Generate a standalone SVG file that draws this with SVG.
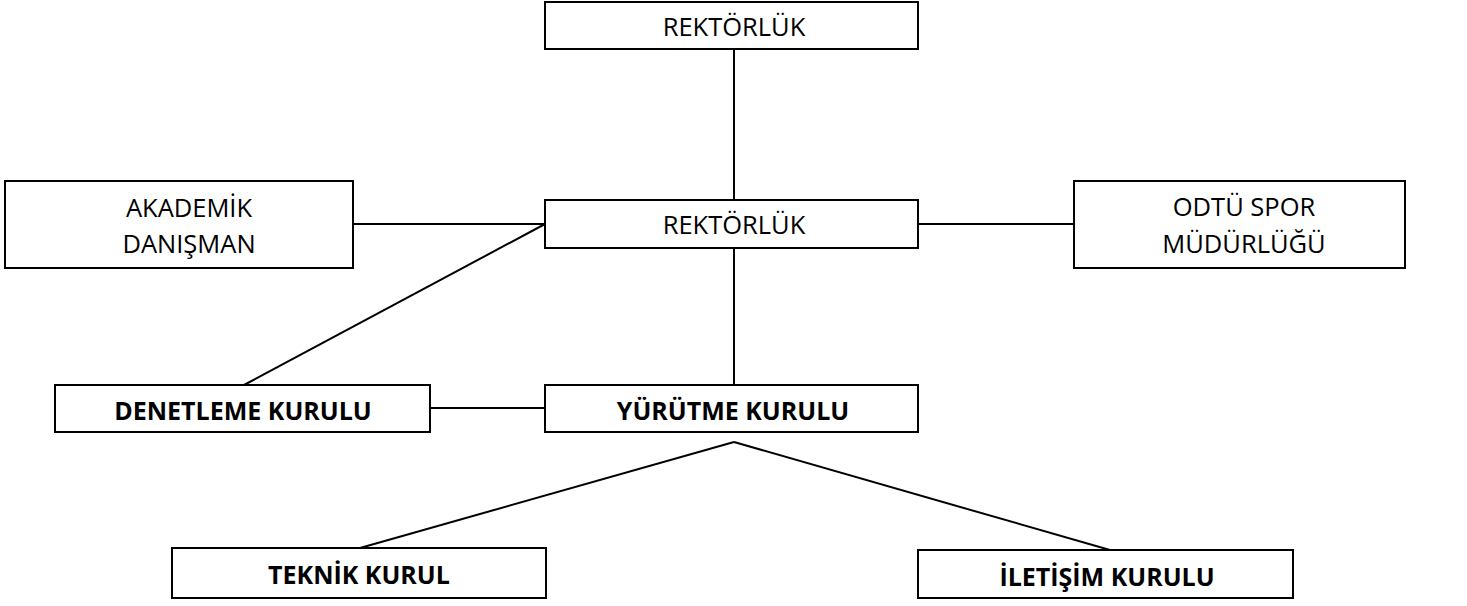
<svg xmlns="http://www.w3.org/2000/svg" width="1467" height="606" viewBox="0 0 1467 606">
<style>
.n{fill:#fff;stroke:#000;stroke-width:2}
line{stroke:#000;stroke-width:2}
text{font-family:"Open Sans","Liberation Sans",sans-serif;font-size:25.5px;fill:#000;text-anchor:middle}
.b{font-weight:bold;font-size:25px}
</style>
<rect width="1467" height="606" fill="#fff"/>
<g id="connectors">
<line x1="734" y1="49" x2="734" y2="200"/>
<line x1="353" y1="224" x2="545" y2="224"/>
<line x1="545" y1="224" x2="244" y2="385"/>
<line x1="918" y1="224" x2="1074" y2="224"/>
<line x1="734" y1="248" x2="734" y2="385"/>
<line x1="430" y1="408" x2="545" y2="408"/>
<line x1="734" y1="442" x2="360" y2="548"/>
<line x1="734" y1="442" x2="1110" y2="550"/>
</g>
<g id="rektorluk-top"><rect class="n" x="545" y="2" width="373" height="47"/><text x="734" y="36">REKTÖRLÜK</text></g>
<g id="rektorluk"><rect class="n" x="545" y="200" width="373" height="48"/><text x="734" y="234">REKTÖRLÜK</text></g>
<g id="akademik"><rect class="n" x="5" y="181" width="348" height="87"/><text x="189" y="217">AKADEMİK</text><text x="189" y="253">DANIŞMAN</text></g>
<g id="odtu"><rect class="n" x="1074" y="181" width="331" height="87"/><text x="1244" y="216">ODTÜ SPOR</text><text x="1244" y="253">MÜDÜRLÜĞÜ</text></g>
<g id="denetleme"><rect class="n" x="55" y="385" width="375" height="47"/><text class="b" x="243" y="420">DENETLEME KURULU</text></g>
<g id="yurutme"><rect class="n" x="545" y="385" width="373" height="47"/><text class="b" x="733" y="420">YÜRÜTME KURULU</text></g>
<g id="teknik"><rect class="n" x="172" y="548" width="374" height="50"/><text class="b" x="359" y="584">TEKNİK KURUL</text></g>
<g id="iletisim"><rect class="n" x="918" y="550" width="375" height="48"/><text class="b" x="1107" y="586">İLETİŞİM KURULU</text></g>
</svg>
